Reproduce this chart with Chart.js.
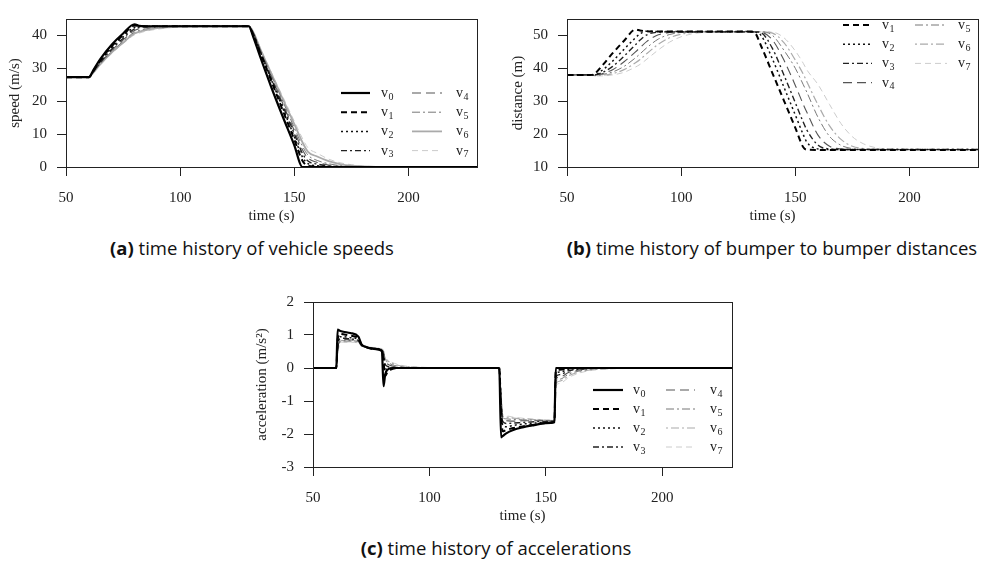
<!DOCTYPE html>
<html>
<head>
<meta charset="utf-8">
<script src="https://cdn.jsdelivr.net/npm/chart.js@4.4.1/dist/chart.umd.min.js"></script>
<style>
  body { margin: 0; background: #fff; width: 981px; height: 561px; position: relative; overflow: hidden; }
  canvas { position: absolute; }
  .cap { position: absolute; font-family: "Open Sans", Lato, sans-serif; font-size: 18.5px; color: #111;
         white-space: nowrap; transform: translate(-50%, -50%); }
</style>
</head>
<body>
<canvas id="speedChart" width="490" height="232" style="left:0;top:0"></canvas>
<canvas id="distChart" width="491" height="232" style="left:490px;top:0"></canvas>
<canvas id="accChart" width="500" height="245" style="left:240px;top:280px"></canvas>
<div class="cap" style="left:252px;top:247px"><b>(a)</b> time history of vehicle speeds</div>
<div class="cap" style="left:772px;top:247px"><b>(b)</b> time history of bumper to bumper distances</div>
<div class="cap" style="left:496px;top:547px"><b>(c)</b> time history of accelerations</div>
<script>
// ---- data ----
const vehicleLabels = ["v0", "v1", "v2", "v3", "v4", "v5", "v6", "v7"];
const timeTicks = [50, 100, 150, 200];

// (a) speeds, m/s
const speedTime = [50, 60, 62, 65, 70, 75, 80, 82, 85, 90, 95, 100, 110, 130, 132, 135, 140, 145, 150, 153.5, 156, 160, 165, 170, 175, 180, 190, 230];
const speedV0 = [27.3, 27.3, 29.5, 32.8, 37.2, 40.6, 43.4, 42.9, 42.8, 42.8, 42.8, 42.8, 42.8, 42.8, 39.6, 33.6, 24.1, 15.2, 6.6, 0, 0, 0, 0, 0, 0, 0, 0, 0];
const speedV1 = [27.3, 27.3, 29.3, 32.4, 36.7, 40.1, 43.0, 42.9, 42.8, 42.8, 42.8, 42.8, 42.8, 42.8, 40.1, 34.8, 26.0, 17.1, 8.3, 2.0, 0.3, 0.1, 0, 0, 0, 0, 0, 0];
const speedV2 = [27.3, 27.3, 29.1, 32.1, 36.3, 39.6, 42.5, 42.7, 42.8, 42.8, 42.8, 42.8, 42.8, 42.8, 40.4, 35.1, 26.4, 17.8, 9.2, 3.1, 1.0, 0.4, 0.1, 0, 0, 0, 0, 0];
const speedV3 = [27.3, 27.3, 29.0, 31.8, 35.8, 39.1, 42.0, 42.4, 42.7, 42.8, 42.8, 42.8, 42.8, 42.8, 40.6, 35.3, 26.8, 18.5, 10.1, 4.2, 1.8, 0.9, 0.3, 0.1, 0, 0, 0, 0];
const speedV4 = [27.3, 27.3, 28.9, 31.6, 35.4, 38.6, 41.5, 42.0, 42.4, 42.7, 42.8, 42.8, 42.8, 42.8, 40.8, 35.6, 27.3, 19.2, 11.0, 5.3, 2.7, 1.4, 0.6, 0.2, 0.1, 0, 0, 0];
const speedV5 = [27.3, 27.3, 28.8, 31.4, 35.1, 38.2, 41.0, 41.5, 42.0, 42.5, 42.7, 42.8, 42.8, 42.8, 41.0, 35.9, 27.8, 19.9, 11.9, 6.4, 3.6, 2.0, 1.0, 0.4, 0.2, 0.1, 0, 0];
const speedV6 = [27.3, 27.3, 28.7, 31.2, 34.8, 37.8, 40.6, 41.1, 41.6, 42.2, 42.5, 42.7, 42.8, 42.8, 41.1, 36.1, 28.3, 20.6, 13.0, 7.6, 4.6, 3.2, 1.8, 0.9, 0.4, 0.2, 0, 0];
const speedV7 = [27.3, 27.3, 28.6, 31.0, 34.5, 37.5, 40.2, 40.7, 41.3, 41.9, 42.3, 42.6, 42.8, 42.8, 41.2, 36.3, 28.7, 21.3, 13.9, 8.8, 5.8, 4.2, 2.4, 1.3, 0.7, 0.3, 0.1, 0];
const speedTicks = [0, 10, 20, 30, 40];

// (b) bumper to bumper distances, m
const distTime = [50, 60, 62, 65, 70, 75, 80, 82, 85, 90, 95, 100, 105, 110, 130, 132, 135, 140, 145, 150, 153.5, 155, 160, 165, 170, 175, 180, 185, 190, 230];
const distV1 = [38, 38, 38.3, 40.5, 44.6, 48.4, 51.8, 51.5, 51.3, 51.2, 51.2, 51.2, 51.2, 51.2, 51.2, 51.0, 46.8, 38.5, 30.2, 21.9, 16.0, 15.3, 15.2, 15.2, 15.2, 15.2, 15.2, 15.2, 15.2, 15.2];
const distV2 = [38, 38, 38.0, 39.2, 42.2, 45.8, 49.3, 50.5, 51.3, 51.2, 51.2, 51.2, 51.2, 51.2, 51.2, 51.1, 50.0, 42.8, 34.3, 25.8, 19.8, 17.6, 15.5, 15.3, 15.3, 15.3, 15.3, 15.3, 15.3, 15.3];
const distV3 = [38, 38, 38.0, 38.6, 40.6, 43.7, 47.2, 48.6, 50.2, 51.0, 51.1, 51.1, 51.1, 51.1, 51.1, 51.1, 50.8, 46.0, 38.0, 29.5, 23.6, 21.3, 16.6, 15.5, 15.3, 15.3, 15.3, 15.3, 15.3, 15.3];
const distV4 = [38, 38, 38.0, 38.3, 39.6, 42.0, 45.0, 46.3, 48.2, 50.2, 50.9, 51.1, 51.1, 51.1, 51.1, 51.1, 51.0, 48.6, 42.5, 34.8, 29.0, 26.7, 19.6, 16.3, 15.5, 15.3, 15.3, 15.3, 15.3, 15.3];
const distV5 = [38, 38, 37.9, 38.1, 38.9, 40.6, 43.2, 44.4, 46.3, 48.9, 50.3, 50.9, 51.1, 51.1, 51.1, 51.1, 51.1, 50.0, 45.5, 40.0, 35.0, 32.8, 25.0, 19.3, 16.6, 15.6, 15.3, 15.3, 15.3, 15.3];
const distV6 = [38, 38, 37.8, 37.9, 38.4, 39.6, 41.7, 42.7, 44.5, 47.3, 49.3, 50.4, 50.9, 51.1, 51.1, 51.1, 51.1, 50.7, 47.8, 42.5, 38.2, 36.0, 28.8, 22.5, 18.4, 16.3, 15.6, 15.4, 15.3, 15.3];
const distV7 = [38, 38, 37.7, 37.7, 38.0, 38.8, 40.4, 41.2, 42.8, 45.6, 48.0, 49.6, 50.5, 50.9, 51.1, 51.1, 51.1, 51.0, 49.3, 45.3, 41.5, 39.6, 35.0, 29.0, 23.2, 19.2, 17.0, 15.9, 15.5, 15.3];
const distTicks = [10, 20, 30, 40, 50];

// (c) accelerations, m/s^2
const accTime = [50, 60, 60.6, 61.5, 63, 66, 69.5, 70.8, 72, 76, 79.6, 80.3, 81, 82, 84, 88, 95, 105, 130, 130.8, 131.5, 133, 136, 140, 145, 150, 153.7, 154.3, 156, 160, 165, 170, 180, 190, 230];
const accV0 = [0, 0, 1.16, 1.13, 1.10, 1.06, 0.95, 0.72, 0.66, 0.58, 0.52, -0.55, -0.2, -0.05, 0, 0, 0, 0, 0, -2.1, -2.06, -1.98, -1.88, -1.8, -1.73, -1.67, -1.64, 0, 0, 0, 0, 0, 0, 0, 0];
const accV1 = [0, 0, 0.85, 1.04, 1.02, 0.98, 0.9, 0.72, 0.66, 0.58, 0.52, 0.2, -0.25, -0.12, -0.03, 0, 0, 0, 0, -1.3, -1.92, -1.88, -1.82, -1.77, -1.72, -1.67, -1.64, -0.1, -0.05, -0.01, 0, 0, 0, 0, 0];
const accV2 = [0, 0, 0.7, 0.95, 0.95, 0.92, 0.86, 0.7, 0.65, 0.58, 0.53, 0.35, 0.0, -0.05, 0, 0, 0, 0, 0, -1.1, -1.75, -1.78, -1.74, -1.7, -1.67, -1.65, -1.63, -0.2, -0.12, -0.04, -0.01, 0, 0, 0, 0];
const accV3 = [0, 0, 0.6, 0.88, 0.9, 0.88, 0.83, 0.69, 0.65, 0.59, 0.54, 0.42, 0.12, 0.05, 0.02, 0, 0, 0, 0, -1.0, -1.62, -1.68, -1.67, -1.65, -1.63, -1.62, -1.62, -0.28, -0.2, -0.08, -0.03, -0.01, 0, 0, 0];
const accV4 = [0, 0, 0.55, 0.84, 0.86, 0.85, 0.81, 0.68, 0.65, 0.6, 0.55, 0.46, 0.2, 0.12, 0.06, 0.02, 0, 0, 0, -0.9, -1.55, -1.6, -1.61, -1.6, -1.6, -1.6, -1.61, -0.35, -0.27, -0.13, -0.05, -0.02, 0, 0, 0];
const accV5 = [0, 0, 0.5, 0.8, 0.83, 0.83, 0.79, 0.68, 0.65, 0.61, 0.56, 0.49, 0.25, 0.18, 0.1, 0.04, 0.01, 0, 0, -0.85, -1.5, -1.54, -1.56, -1.57, -1.58, -1.59, -1.6, -0.42, -0.34, -0.18, -0.08, -0.03, -0.01, 0, 0];
const accV6 = [0, 0, 0.45, 0.77, 0.8, 0.8, 0.77, 0.67, 0.65, 0.61, 0.57, 0.51, 0.28, 0.22, 0.14, 0.06, 0.02, 0, 0, -0.8, -1.45, -1.49, -1.52, -1.54, -1.56, -1.58, -1.6, -0.48, -0.4, -0.23, -0.11, -0.05, -0.01, 0, 0];
const accV7 = [0, 0, 0.4, 0.74, 0.78, 0.78, 0.76, 0.67, 0.65, 0.62, 0.58, 0.53, 0.3, 0.25, 0.17, 0.08, 0.03, 0.01, 0, -0.75, -1.4, -1.45, -1.49, -1.52, -1.55, -1.57, -1.59, -0.55, -0.47, -0.28, -0.14, -0.07, -0.02, 0, 0];
const accTicks = [-3, -2, -1, 0, 1, 2];

// ---- line styles per vehicle ----
const styleSolidV6 = [
  { color: "#000", width: 2.2, dash: [] },
  { color: "#000", width: 2, dash: [6, 4] },
  { color: "#111", width: 1.5, dash: [2, 3] },
  { color: "#222", width: 1.4, dash: [6, 3, 2, 3] },
  { color: "#555", width: 1.1, dash: [9, 5] },
  { color: "#777", width: 1, dash: [8, 3, 2, 3] },
  { color: "#aaa", width: 1.8, dash: [] },
  { color: "#ccc", width: 1, dash: [6, 4] },
];
const styleDotDashV6 = styleSolidV6.map((s, i) => (i === 6 ? { color: "#aaa", width: 1.2, dash: [2, 3, 8, 3] } : s));

const TXT = "#222";
const serif = '"Liberation Serif", "DejaVu Serif", serif';

// frame round the plot area
const frame = {
  id: "frame",
  afterDraw(chart) {
    const { left, top, right, bottom } = chart.chartArea;
    const ctx = chart.ctx;
    ctx.save();
    ctx.strokeStyle = TXT;
    ctx.lineWidth = 1;
    ctx.strokeRect(Math.round(left) + 0.5, Math.round(top) + 0.5, Math.round(right - left), Math.round(bottom - top));
    ctx.restore();
  },
};

// two column legend with subscripts (v0, v1 ...)
const subLegend = {
  id: "subLegend",
  afterDatasetsDraw(chart, args, opts) {
    const ctx = chart.ctx;
    chart.data.datasets.forEach((ds, i) => {
      const c = opts.cols[Math.floor(i / opts.rows)];
      const y = opts.top + (i % opts.rows) * opts.rowH;
      ctx.save();
      ctx.strokeStyle = ds.borderColor;
      ctx.lineWidth = ds.borderWidth;
      ctx.setLineDash(ds.borderDash || []);
      ctx.beginPath();
      ctx.moveTo(c.x0, y);
      ctx.lineTo(c.x1, y);
      ctx.stroke();
      ctx.setLineDash([]);
      ctx.fillStyle = TXT;
      ctx.textAlign = "left";
      ctx.textBaseline = "alphabetic";
      const base = ds.label.charAt(0);
      const sub = ds.label.slice(1);
      ctx.font = "14px " + serif;
      ctx.fillText(base, c.tx, y + 4);
      const w = ctx.measureText(base).width;
      ctx.font = "10px " + serif;
      ctx.fillText(sub, c.tx + w + 0.5, y + 6.6);
      ctx.restore();
    });
  },
};

function buildChart(id, time, series, labels, styles, cfg) {
  const datasets = series.map((vals, i) => ({
    label: labels[i],
    data: time.map((t, k) => ({ x: t, y: vals[k] })),
    borderColor: styles[i].color,
    borderWidth: styles[i].width,
    borderDash: styles[i].dash,
    pointRadius: 0,
    fill: false,
    cubicInterpolationMode: "monotone",
  }));
  const font = { family: serif, size: 15 };
  return new Chart(document.getElementById(id), {
    type: "line",
    data: { datasets: datasets },
    options: {
      responsive: false,
      animation: false,
      devicePixelRatio: 1,
      layout: { padding: cfg.padding },
      plugins: {
        legend: { display: false },
        tooltip: { enabled: false },
        subLegend: cfg.legend,
      },
      scales: {
        x: {
          type: "linear",
          min: 50,
          max: 230,
          afterBuildTicks: (s) => { s.ticks = timeTicks.map((v) => ({ value: v })); },
          afterFit: (s) => { s.height = cfg.xHeight; },
          grid: { drawOnChartArea: false, tickLength: 9, color: TXT },
          border: { color: TXT },
          ticks: { font: font, color: TXT, padding: 13, maxRotation: 0 },
          title: { display: true, text: "time (s)", font: font, color: TXT, padding: { top: 0, bottom: cfg.xTitlePad } },
        },
        y: {
          type: "linear",
          min: cfg.yMin,
          max: cfg.yMax,
          afterBuildTicks: (s) => { s.ticks = cfg.yTicks.map((v) => ({ value: v })); },
          afterFit: (s) => { s.width = cfg.yWidth; },
          grid: { drawOnChartArea: false, tickLength: 9, color: TXT },
          border: { color: TXT },
          ticks: { font: font, color: TXT, padding: 10 },
          title: { display: true, text: cfg.yTitle, font: font, color: TXT, padding: { top: cfg.yTitlePad, bottom: 0 } },
        },
      },
    },
    plugins: [frame, subLegend],
  });
}

buildChart("speedChart", speedTime,
  [speedV0, speedV1, speedV2, speedV3, speedV4, speedV5, speedV6, speedV7],
  vehicleLabels, styleSolidV6, {
    padding: { top: 5, right: 13, left: 0, bottom: 0 },
    xHeight: 65, xTitlePad: 7, yWidth: 66, yTitlePad: 6,
    yMin: 0, yMax: 45, yTicks: speedTicks, yTitle: "speed (m/s)",
    legend: { rows: 4, top: 93, rowH: 19.2, cols: [{ x0: 341, x1: 370, tx: 381 }, { x0: 412, x1: 442, tx: 456 }] },
  });

buildChart("distChart", distTime,
  [distV1, distV2, distV3, distV4, distV5, distV6, distV7],
  vehicleLabels.slice(1), styleDotDashV6.slice(1), {
    padding: { top: 6, right: 3, left: 0, bottom: 0 },
    xHeight: 65, xTitlePad: 7, yWidth: 77, yTitlePad: 19,
    yMin: 10, yMax: 55, yTicks: distTicks, yTitle: "distance (m)",
    legend: { rows: 4, top: 25, rowH: 19.2, cols: [{ x0: 353, x1: 382, tx: 392 }, { x0: 425, x1: 457, tx: 468 }] },
  });

buildChart("accChart", accTime,
  [accV0, accV1, accV2, accV3, accV4, accV5, accV6, accV7],
  vehicleLabels, styleDotDashV6, {
    padding: { top: 22, right: 8, left: 0, bottom: 0 },
    xHeight: 58, xTitlePad: 0, yWidth: 73, yTitlePad: 13,
    yMin: -3, yMax: 2, yTicks: accTicks, yTitle: "acceleration (m/s²)",
    legend: { rows: 4, top: 110, rowH: 19, cols: [{ x0: 353, x1: 383, tx: 393 }, { x0: 426, x1: 455, tx: 470 }] },
  });
</script>
</body>
</html>
